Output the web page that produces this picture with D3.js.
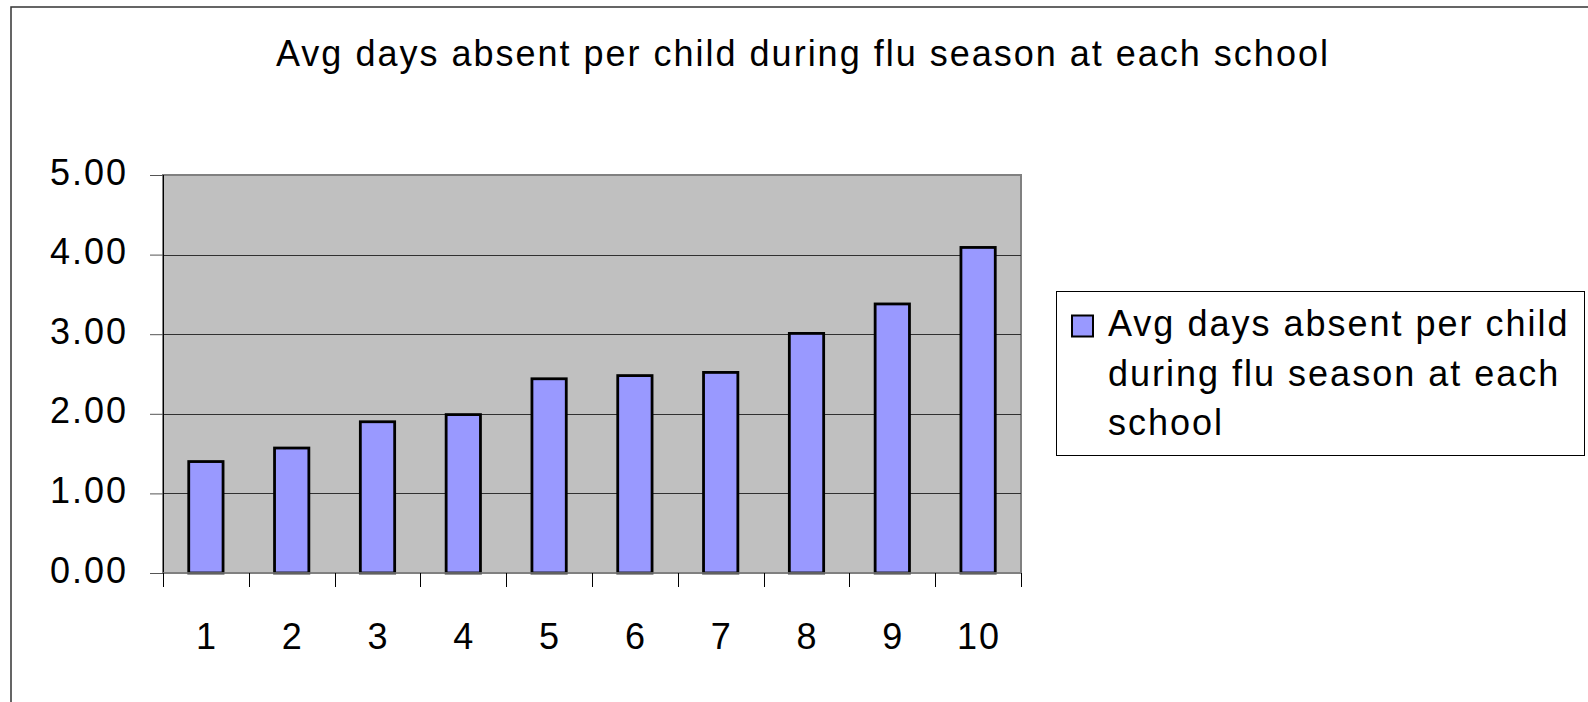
<!DOCTYPE html>
<html>
<head>
<meta charset="utf-8">
<script src="https://cdn.jsdelivr.net/npm/d3@7"></script>
<style>
  body { margin: 0; background: #fff; }
  text { font-family: "Liberation Sans", Arial, sans-serif; font-size: 36px; letter-spacing: 2px; fill: #000; }
</style>
</head>
<body>
<script>
// data
var schools = ["1", "2", "3", "4", "5", "6", "7", "8", "9", "10"];
var avgDays = [1.40, 1.57, 1.90, 1.99, 2.44, 2.48, 2.52, 3.01, 3.38, 4.09];
var yTicks = [0, 1, 2, 3, 4, 5];
var chartTitle = "Avg days absent per child during flu season at each school";
var legendLines = ["Avg days absent per child", "during flu season at each", "school"];

var W = 1588, H = 702;
var margin = {top: 175, left: 163},
    width = 858,
    height = 398;

var svg = d3.select("body").append("svg")
    .attr("width", W)
    .attr("height", H);

// outer chart border (runs off the right and bottom of the picture)
svg.append("rect")
    .attr("x", 11).attr("y", 7)
    .attr("width", 1620).attr("height", 720)
    .attr("fill", "#fff")
    .attr("stroke", "#333")
    .attr("stroke-width", 1.5);

// title
svg.append("text")
    .attr("x", 276)
    .attr("y", 66)
    .text(chartTitle);

var g = svg.append("g")
    .attr("transform", "translate(" + margin.left + "," + margin.top + ")");

// bars sit in the middle of each category slot
var x = d3.scaleBand().domain(schools).range([0, width])
    .paddingInner(0.6).paddingOuter(0.3);
var xEdge = d3.scaleLinear().domain([0, schools.length]).range([0, width]);
var y = d3.scaleLinear().domain([0, 5]).range([height, 0]);

// plot area
g.append("rect")
    .attr("width", width).attr("height", height)
    .attr("fill", "#c0c0c0")
    .attr("stroke", "#808080")
    .attr("stroke-width", 2);

// gridlines
g.selectAll(".grid")
    .data(yTicks.filter(function(d) { return d > 0 && d < 5; }))
    .enter().append("line")
    .attr("x1", 0).attr("x2", width)
    .attr("y1", function(d) { return Math.round(y(d)) + 0.5; })
    .attr("y2", function(d) { return Math.round(y(d)) + 0.5; })
    .attr("stroke", "#303030")
    .attr("stroke-width", 1);

// bars
g.selectAll(".bar")
    .data(avgDays)
    .enter().append("rect")
    .attr("x", function(d, i) { return x(schools[i]); })
    .attr("width", x.bandwidth())
    .attr("y", function(d) { return y(d); })
    .attr("height", function(d) { return height - y(d); })
    .attr("fill", "#9999ff")
    .attr("stroke", "#000")
    .attr("stroke-width", 2.8);

// y axis
var yAxis = g.append("g")
    .call(d3.axisLeft(y).tickValues(yTicks).tickSize(13).tickPadding(22)
      .tickFormat(d3.format(".2f")));
yAxis.select(".domain").attr("stroke", "#000").attr("d", "M0.5,0V" + (height + 14));
yAxis.selectAll(".tick line").attr("stroke", "#555");
yAxis.selectAll(".tick text")
    .attr("dy", 9)
    .style("font-size", "36px");

// x axis, ticks between categories
var xAxis = g.append("g")
    .attr("transform", "translate(0," + height + ")");
xAxis.append("line")
    .attr("x1", 0).attr("x2", width)
    .attr("y1", 0).attr("y2", 0)
    .attr("stroke", "#808080").attr("stroke-width", 1.5);
xAxis.selectAll(".xtick")
    .data(d3.range(schools.length + 1))
    .enter().append("line")
    .attr("x1", function(d) { return Math.round(xEdge(d)) + 0.5; })
    .attr("x2", function(d) { return Math.round(xEdge(d)) + 0.5; })
    .attr("y1", 0).attr("y2", 14)
    .attr("stroke", "#000");
xAxis.selectAll(".xlabel")
    .data(schools)
    .enter().append("text")
    .attr("x", function(d) { return x(d) + x.bandwidth() / 2 + 1; })
    .attr("y", 76)
    .attr("text-anchor", "middle")
    .text(function(d) { return d; });

// legend
var legend = svg.append("g");
legend.append("rect")
    .attr("x", 1056.5).attr("y", 291.5)
    .attr("width", 528).attr("height", 164)
    .attr("fill", "#fff")
    .attr("stroke", "#000")
    .attr("stroke-width", 1);
legend.append("rect")
    .attr("x", 1072).attr("y", 315.5)
    .attr("width", 21).attr("height", 21)
    .attr("fill", "#9999ff")
    .attr("stroke", "#000")
    .attr("stroke-width", 2);
legend.selectAll(".ltext")
    .data(legendLines)
    .enter().append("text")
    .attr("x", 1108)
    .attr("y", function(d, i) { return 336 + i * 49.5; })
    .text(function(d) { return d; });
</script>
</body>
</html>
